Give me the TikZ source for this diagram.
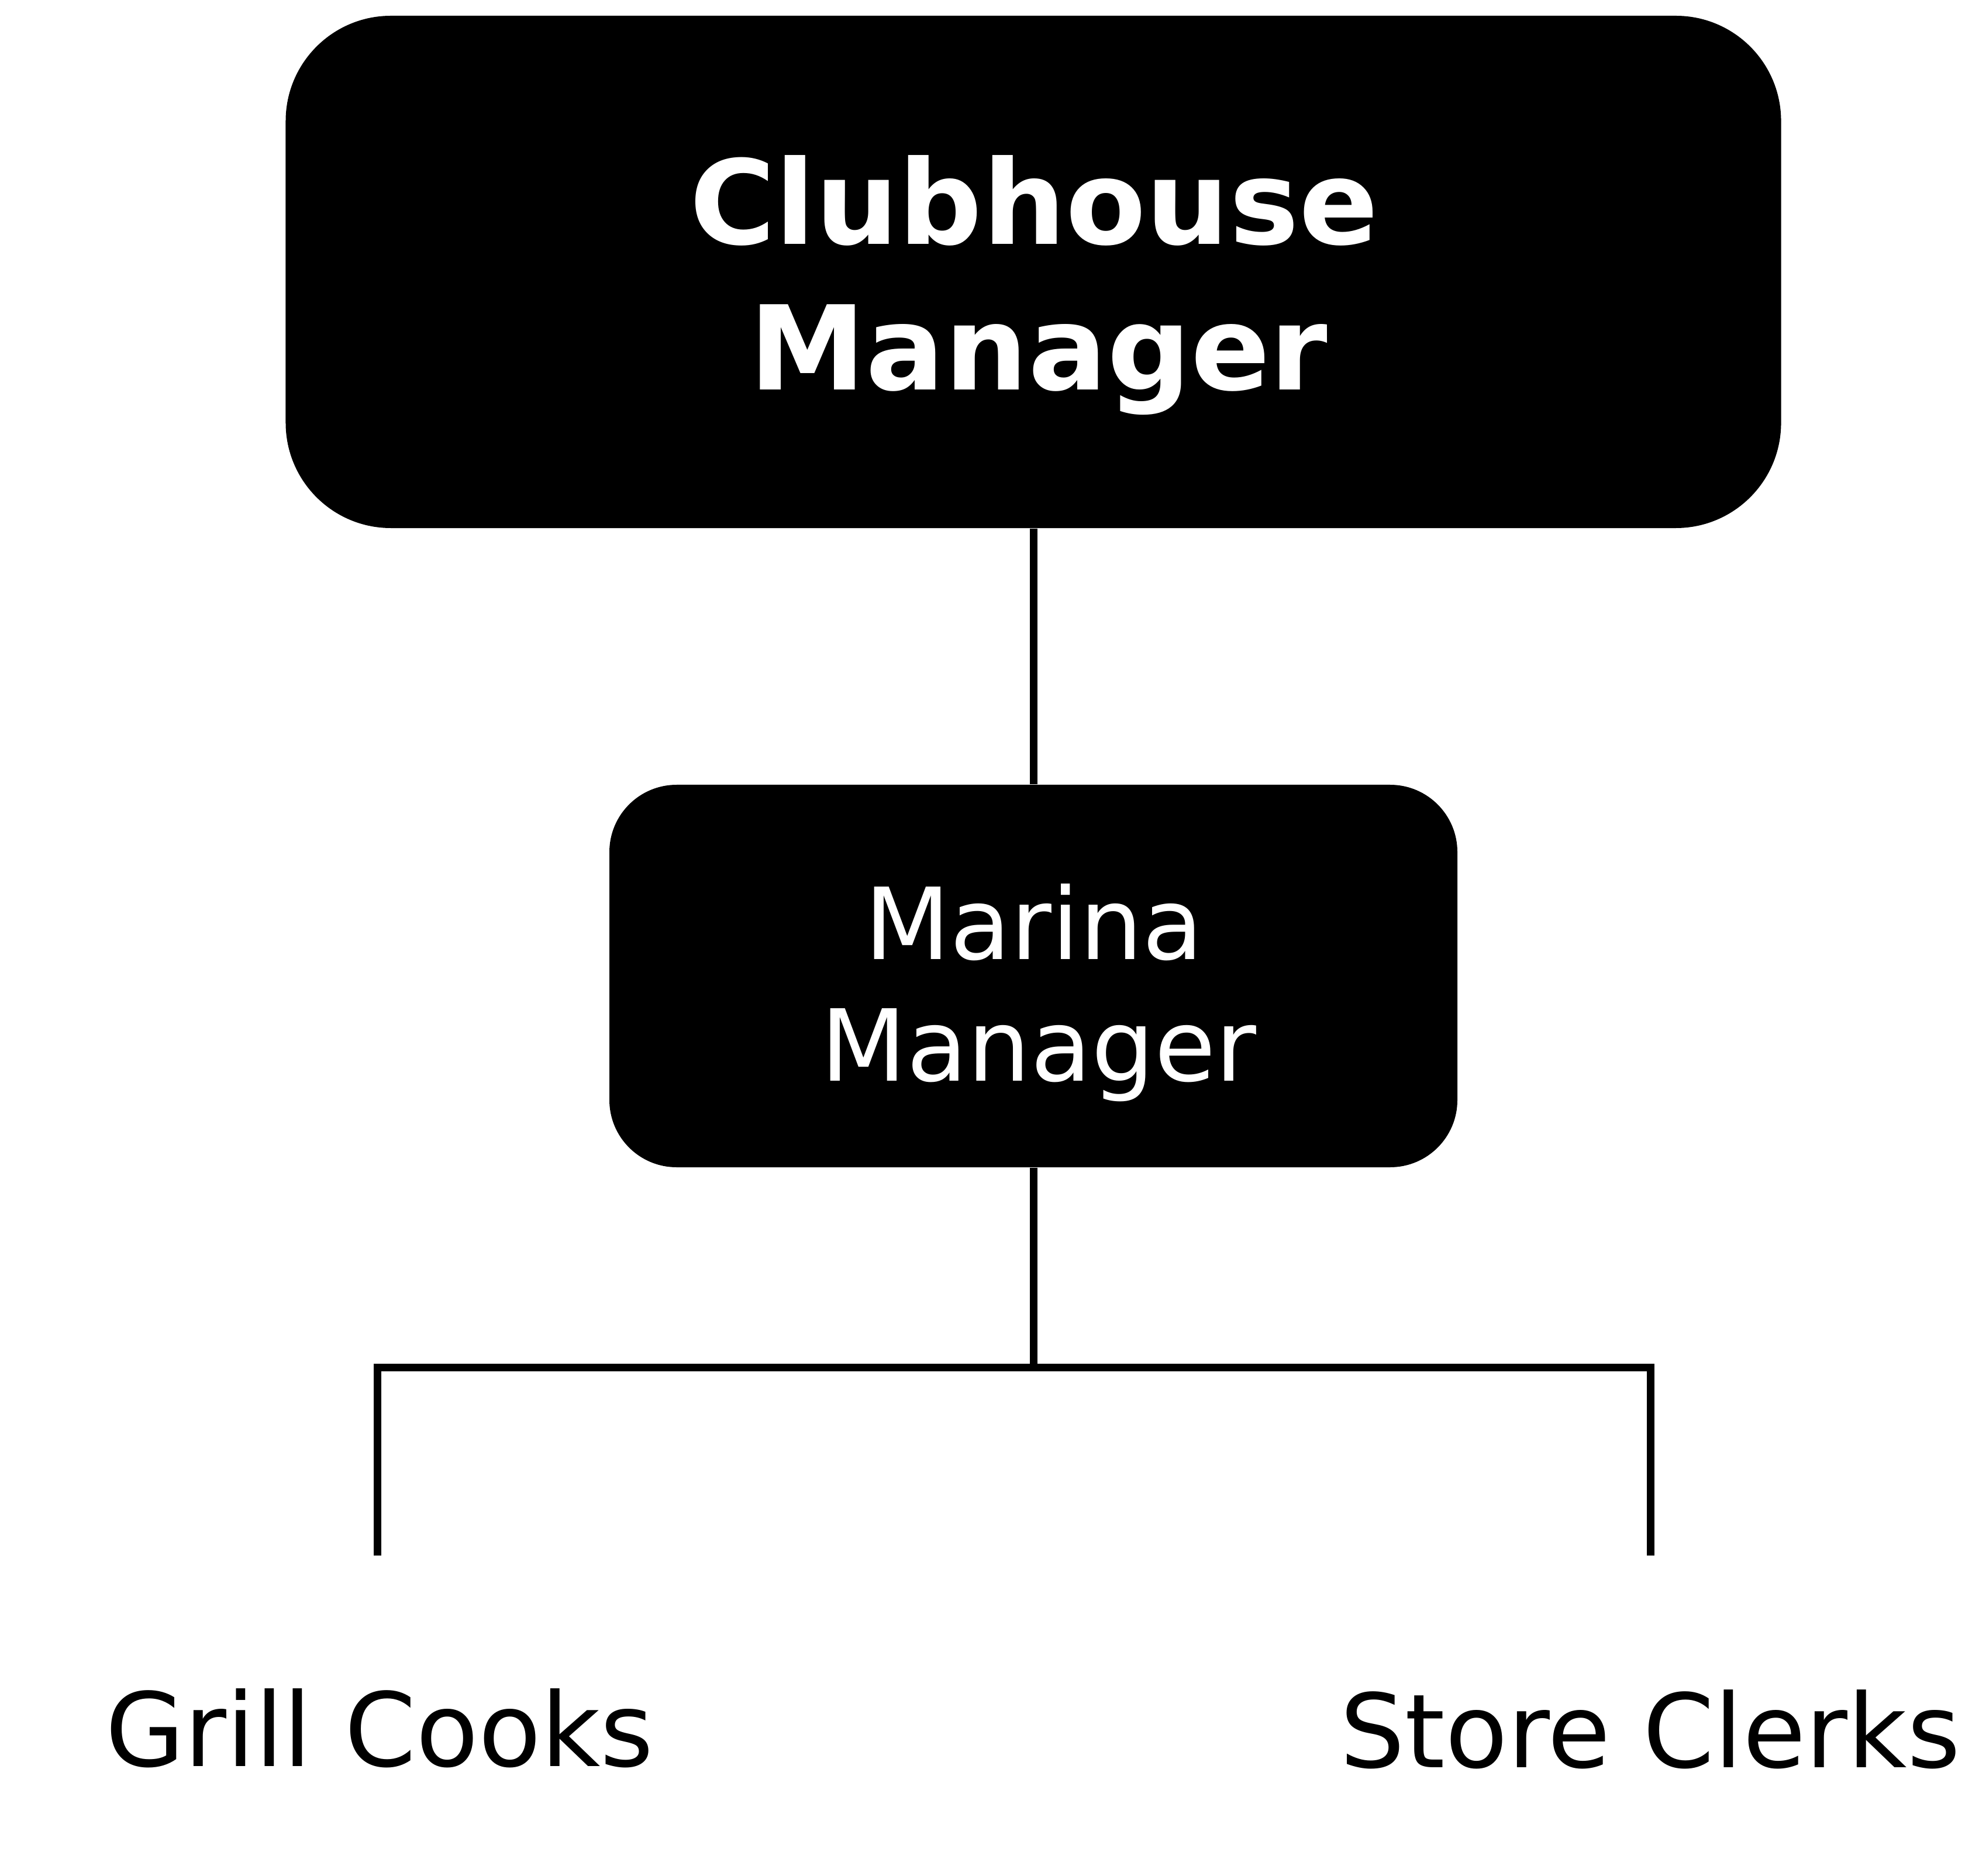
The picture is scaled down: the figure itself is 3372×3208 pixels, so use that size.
\documentclass[tikz,border=0pt]{standalone}
\usepackage{fontspec}
\setmainfont{DejaVu Sans}
\begin{document}
\begin{tikzpicture}[x=0.2pt,y=-0.2pt]
\tikzset{
 bigbox/.style={fill=black, draw=none, rounded corners=36pt, minimum width=511.4pt, minimum height=175.2pt, inner sep=0pt},
 midbox/.style={fill=black, draw=none, rounded corners=23pt, minimum width=290pt, minimum height=130.8pt, inner sep=0pt},
 boxtext/.style={text=white, inner sep=0pt, anchor=base},
 leaf/.style={inner sep=0pt, anchor=base, font=\fontsize{35}{42}\selectfont},
 link/.style={line width=2.6pt}
}
\useasboundingbox (0,0) rectangle (3372,3208);
\node[bigbox] (top) at (1767,465) {};
\node[midbox] (mid) at (1767,1669) {};
\node[boxtext, font=\bfseries\fontsize{40}{48}\selectfont] (topA) at (1768,418) {Clubhouse};
\node[boxtext, font=\bfseries\fontsize{40}{48}\selectfont] (topB) at (1776,667) {Manager};
\node[boxtext, font=\fontsize{34}{41}\selectfont] (midA) at (1768,1640) {Marina};
\node[boxtext, font=\fontsize{34}{41}\selectfont] (midB) at (1776,1848) {Manager};
\node[leaf] (grill) at (649,3020) {Grill Cooks};
\node[leaf] (store) at (2822,3022) {Store Clerks};
\coordinate (junction) at (1767,2338);
\coordinate (gtop) at (645,2660);
\coordinate (stop) at (2822,2660);
\draw[link] (top.south) -- (mid.north);
\draw[link] (mid.south) -- (junction);
\draw[link] (gtop) |- (junction) -| (stop);
\end{tikzpicture}
\end{document}
